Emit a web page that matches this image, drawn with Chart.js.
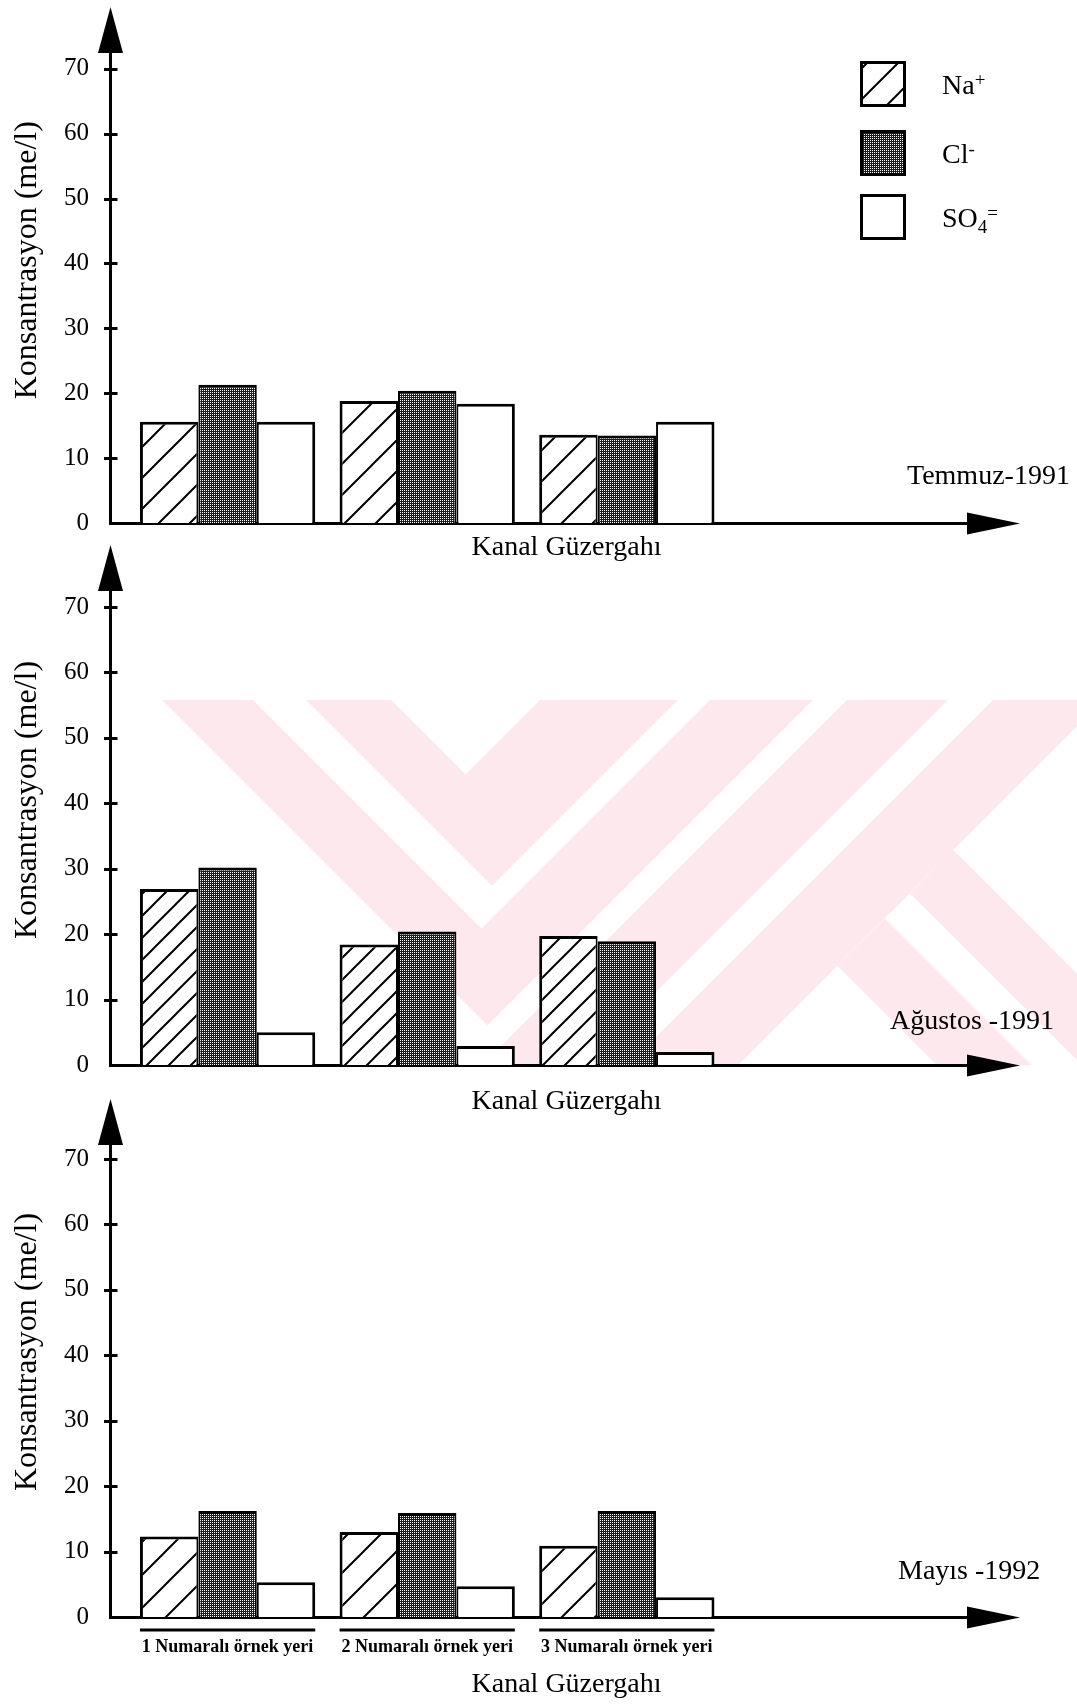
<!DOCTYPE html>
<html>
<head>
<meta charset="utf-8">
<script src="https://cdn.jsdelivr.net/npm/chart.js@4.4.1/dist/chart.umd.min.js"></script>
<style>
html, body { margin: 0; padding: 0; background: #ffffff; }
#wrap { position: relative; width: 1077px; height: 1706px; overflow: hidden; background: #ffffff; }
.panel { position: absolute; left: 0; width: 1077px; }
.panel canvas { display: block; }
</style>
</head>
<body>
<div id="wrap">
  <div class="panel" style="top:0px;height:570px"><canvas id="c1" width="1077" height="570"></canvas></div>
  <div class="panel" style="top:530px;height:590px"><canvas id="c2" width="1077" height="590"></canvas></div>
  <div class="panel" style="top:1090px;height:616px"><canvas id="c3" width="1077" height="616"></canvas></div>
</div>
<script>
// ---------------- DATA ----------------
const sites = ['1 Numaralı örnek yeri', '2 Numaralı örnek yeri', '3 Numaralı örnek yeri'];
const sitePositions = [1, 2, 3];
const seriesNames = ['Na+', 'Cl-', 'SO4='];
const seriesBase = ['Na', 'Cl', 'SO'];
const seriesSub = ['', '', '4'];
const seriesSup = ['+', '-', '='];
const yTickValues = [0, 10, 20, 30, 40, 50, 60, 70];
const periods = ['Temmuz-1991', 'Ağustos -1991', 'Mayıs -1992'];
const yTitle = 'Konsantrasyon (me/l)';
const xTitle = 'Kanal Güzergahı';

const naTemmuz1991  = [15.6, 18.8, 13.6];
const clTemmuz1991  = [21.3, 20.4, 13.5];
const so4Temmuz1991 = [15.6, 18.4, 15.6];

const naAgustos1991  = [26.9, 18.4, 19.7];
const clAgustos1991  = [30.2, 20.4, 18.9];
const so4Agustos1991 = [5.0, 2.9, 2.0];

const naMayis1992  = [12.3, 13.0, 10.9];
const clMayis1992  = [16.2, 15.9, 16.2];
const so4Mayis1992 = [5.3, 4.7, 3.0];

// ---------------- STYLE ----------------
const SERIF = '"Liberation Serif", "Times New Roman", serif';
const WATERMARK_COLOR = '#fde9ed';
// background watermark shapes of the scanned page (decoration only, page coordinates)
const watermarkShapes = [
  [[162,700],[253,700],[481.5,928.5],[710,700],[813,700],[487.5,1025.5]],
  [[306,700],[391,700],[465.5,774.5],[540,700],[678,700],[492,886]],
  [[847,700],[948,700],[583,1065],[482,1065]],
  [[993,700],[1103,700],[738,1065],[628,1065]],
  [[953.2,849.8],[1077,973.7],[1077,1060.3],[909.9,893.2]],
  [[884.9,918.2],[1031.7,1065],[936.6,1065],[837.3,965.7]]
];

function hatchPattern(size) {
  const c = document.createElement('canvas');
  c.width = size; c.height = size;
  const g = c.getContext('2d');
  g.fillStyle = '#ffffff';
  g.fillRect(0, 0, size, size);
  g.strokeStyle = '#000000';
  g.lineWidth = 2;
  g.beginPath();
  g.moveTo(-1, size + 1); g.lineTo(size + 1, -1);
  g.moveTo(-3, 3); g.lineTo(3, -3);
  g.moveTo(size - 3, size + 3); g.lineTo(size + 3, size - 3);
  g.stroke();
  return g.createPattern(c, 'repeat');
}
function stipplePattern() {
  const c = document.createElement('canvas');
  c.width = 2; c.height = 2;
  const g = c.getContext('2d');
  g.fillStyle = '#1e1e1e';
  g.fillRect(0, 0, 2, 2);
  g.fillStyle = '#ffffff';
  g.fillRect(0, 0, 1, 1);
  return g.createPattern(c, 'repeat');
}

const panels = [
  { id: 'c1', top: 0, height: 570, chartTop: 52, chartBottom: 523, yMax: 72.6,
    period: periods[0], periodX: 907, periodDy: -46.5, titleDy: 25,
    series: [naTemmuz1991, clTemmuz1991, so4Temmuz1991], hatch: 31,
    legend: true, sitesShown: false, watermark: false },
  { id: 'c2', top: 530, height: 590, chartTop: 60, chartBottom: 535, yMax: 72.6,
    period: periods[1], periodX: 890, periodDy: -43, titleDy: 37,
    series: [naAgustos1991, clAgustos1991, so4Agustos1991], hatch: 22,
    legend: false, sitesShown: false, watermark: true },
  { id: 'c3', top: 1090, height: 616, chartTop: 54, chartBottom: 527, yMax: 72.3,
    period: periods[2], periodX: 898, periodDy: -45.5, titleDy: 68,
    series: [naMayis1992, clMayis1992, so4Mayis1992], hatch: 33,
    legend: false, sitesShown: true, watermark: false }
];

const X_MIN = 0.411, X_MAX = 4.709;
const PLOT_LEFT = 110, PLOT_RIGHT = 968, CANVAS_W = 1077;

function makeDecor(p, fills) {
  return {
    id: 'decor_' + p.id,
    beforeDraw(chart) {
      if (!p.watermark) return;
      const ctx = chart.ctx;
      ctx.save();
      ctx.fillStyle = WATERMARK_COLOR;
      watermarkShapes.forEach(poly => {
        ctx.beginPath();
        poly.forEach((pt, i) => {
          const x = pt[0], y = pt[1] - p.top;
          if (i === 0) ctx.moveTo(x, y); else ctx.lineTo(x, y);
        });
        ctx.closePath();
        ctx.fill();
      });
      ctx.restore();
    },
    afterDraw(chart) {
      const ctx = chart.ctx;
      const ca = chart.chartArea;
      const ys = chart.scales.y;
      const ax = ys.right + 0.5;
      ctx.save();
      ctx.fillStyle = '#000';
      ctx.strokeStyle = '#000';

      // tick marks crossing the axis
      ctx.lineWidth = 3;
      ys.ticks.forEach(t => {
        if (t.value === 0) return;
        const y = Math.round(ys.getPixelForValue(t.value)) + 0.5;
        ctx.beginPath();
        ctx.moveTo(ax - 6.5, y);
        ctx.lineTo(ax + 7, y);
        ctx.stroke();
      });

      // arrow heads
      ctx.beginPath();
      ctx.moveTo(ax, ca.top - 45);
      ctx.lineTo(ax - 12.5, ca.top + 1);
      ctx.lineTo(ax + 12.5, ca.top + 1);
      ctx.closePath();
      ctx.fill();
      const ay = ca.bottom + 0.5;
      ctx.beginPath();
      ctx.moveTo(ca.right - 1, ay - 11);
      ctx.lineTo(ca.right + 52, ay);
      ctx.lineTo(ca.right - 1, ay + 11);
      ctx.closePath();
      ctx.fill();

      // y title
      ctx.save();
      ctx.font = '32px ' + SERIF;
      ctx.textAlign = 'center';
      ctx.textBaseline = 'middle';
      ctx.translate(28, ys.getPixelForValue(40.5));
      ctx.rotate(-Math.PI / 2);
      ctx.fillText(yTitle, 0, 0);
      ctx.restore();

      // x title
      ctx.font = '28px ' + SERIF;
      ctx.textAlign = 'center';
      ctx.textBaseline = 'middle';
      ctx.fillText(xTitle, 566.5, ca.bottom + p.titleDy);

      // period label
      ctx.textAlign = 'left';
      ctx.fillText(p.period, p.periodX, ca.bottom + p.periodDy);

      // site underlines
      if (p.sitesShown) {
        const m0 = chart.getDatasetMeta(0), m2 = chart.getDatasetMeta(2);
        ctx.lineWidth = 3;
        sitePositions.forEach((s, j) => {
          const a = m0.data[j], b = m2.data[j];
          const x1 = a.x - a.width / 2, x2 = b.x + b.width / 2;
          ctx.beginPath();
          ctx.moveTo(x1, ca.bottom + 13);
          ctx.lineTo(x2, ca.bottom + 13);
          ctx.stroke();
        });
      }

      // legend
      if (p.legend) {
        const tops = [61, 130, 194];
        const bx = 860, bs = 46;
        seriesNames.forEach((name, i) => {
          const t = tops[i];
          ctx.fillStyle = fills[i];
          ctx.fillRect(bx, t, bs, bs);
          ctx.lineWidth = 3;
          ctx.strokeStyle = '#000';
          ctx.strokeRect(bx + 1.5, t + 1.5, bs - 3, bs - 3);
          ctx.fillStyle = '#000';
          ctx.textAlign = 'left';
          ctx.textBaseline = 'alphabetic';
          const base = t + bs / 2 + 9.5;
          let x = 942;
          ctx.font = '28px ' + SERIF;
          ctx.fillText(seriesBase[i], x, base);
          x += ctx.measureText(seriesBase[i]).width;
          ctx.font = '19px ' + SERIF;
          if (seriesSub[i]) {
            ctx.fillText(seriesSub[i], x, base + 6);
            x += ctx.measureText(seriesSub[i]).width;
          }
          if (seriesSup[i]) {
            ctx.fillText(seriesSup[i], x, base - 8);
          }
        });
      }
      ctx.restore();
    }
  };
}

panels.forEach(p => {
  const fills = [hatchPattern(p.hatch), stipplePattern(), '#ffffff'];
  const borders = [
    { top: 3, left: 3, right: 2, bottom: 0 },
    { top: 3, left: 2, right: 2, bottom: 0 },
    { top: 3, left: 2, right: 3, bottom: 0 }
  ];
  const datasets = seriesNames.map((name, i) => ({
    label: name,
    data: p.series[i],
    backgroundColor: fills[i],
    borderColor: '#000000',
    borderWidth: borders[i],
    borderSkipped: 'start',
    barPercentage: 1.0,
    categoryPercentage: 0.878
  }));
  new Chart(document.getElementById(p.id), {
    type: 'bar',
    data: { labels: sitePositions, datasets },
    options: {
      responsive: false,
      animation: false,
      devicePixelRatio: 1,
      events: [],
      layout: { padding: { top: p.chartTop, left: 0, right: CANVAS_W - PLOT_RIGHT, bottom: 0 } },
      plugins: { legend: { display: false }, tooltip: { enabled: false }, title: { display: false } },
      scales: {
        x: {
          type: 'linear',
          bounds: 'data',
          offset: false,
          min: X_MIN,
          max: X_MAX,
          grid: { display: false, drawTicks: false, offset: false },
          border: { display: true, color: '#000', width: 3 },
          afterBuildTicks: (scale) => { scale.ticks = sitePositions.map(v => ({ value: v })); },
          afterFit: (scale) => { scale.height = p.height - p.chartBottom; },
          ticks: {
            display: p.sitesShown,
            autoSkip: false,
            maxRotation: 0,
            minRotation: 0,
            includeBounds: false,
            padding: 20,
            color: '#000',
            font: { family: SERIF, size: 18, weight: 'bold' },
            callback: (v) => { const k = sitePositions.indexOf(v); return k >= 0 ? sites[k] : ''; }
          }
        },
        y: {
          type: 'linear',
          bounds: 'data',
          min: 0,
          max: p.yMax,
          grid: { display: false, drawTicks: false },
          border: { display: true, color: '#000', width: 3 },
          afterBuildTicks: (scale) => { scale.ticks = yTickValues.map(v => ({ value: v })); },
          afterFit: (scale) => { scale.width = PLOT_LEFT; },
          ticks: {
            includeBounds: false,
            padding: 21,
            color: '#000',
            font: { family: SERIF, size: 25 },
            callback: (v) => String(v)
          }
        }
      }
    },
    plugins: [makeDecor(p, fills)]
  });
});
</script>
</body>
</html>
